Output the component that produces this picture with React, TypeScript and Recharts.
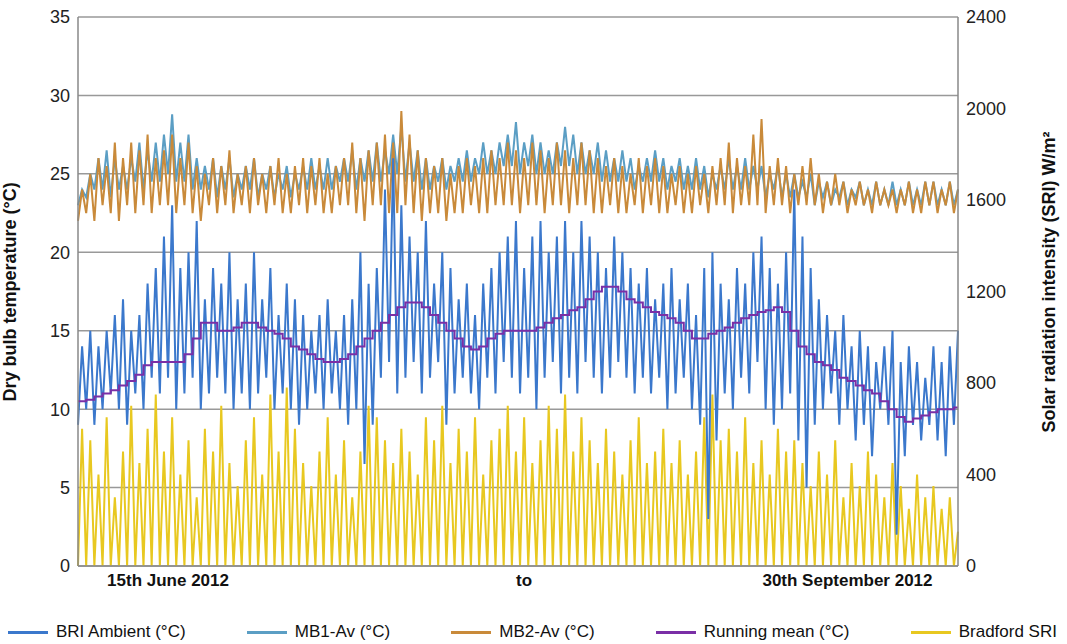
import { ComposedChart, Line, XAxis, YAxis, CartesianGrid, Legend } from 'recharts';

// one value per day, 15 Jun – 30 Sep 2012
const briHigh = [
  14, 15, 14, 15, 16, 17, 15, 16, 18, 19, 21, 23, 19, 20, 22, 17, 19, 18, 20, 17,
  18, 20, 17, 19, 16, 18, 17, 16, 15, 16, 17, 15, 16, 17, 20, 18, 19, 24, 26, 23,
  21, 20, 22, 18, 20, 19, 17, 18, 16, 18, 19, 20, 21, 22, 19, 21, 22, 20, 21, 22,
  20, 22, 21, 20, 19, 21, 20, 19, 18, 19, 17, 18, 19, 17, 18, 16, 19, 20, 18, 17,
  19, 18, 20, 21, 19, 18, 20, 24, 21, 19, 17, 16, 15, 16, 14, 15, 14, 13, 14, 15,
  13, 14, 13, 12, 14, 13, 14, 15,
];
const briLow = [
  9, 10, 9, 10, 11, 10, 9, 11, 10, 12, 11, 12, 10, 11, 12, 10, 11, 12, 11, 10,
  11, 10, 11, 12, 10, 11, 10, 9, 10, 11, 10, 11, 10, 9, 10, 6.5, 9, 12, 13, 11,
  12, 13, 11, 12, 13, 9, 11, 12, 11, 10, 12, 11, 13, 12, 11, 12, 10, 12, 13, 11,
  12, 11, 13, 12, 11, 12, 13, 12, 11, 12, 11, 12, 10, 11, 12, 10, 9, 3, 8, 11,
  10, 12, 11, 13, 10, 9, 10, 11, 8, 5, 9, 10, 11, 9, 10, 8, 9, 7, 10, 9,
  2, 7, 9, 8, 9, 8, 7, 9,
];
const mb1High = [
  24, 25, 26, 26.5, 26, 25.5, 26, 27, 26.5, 27, 27.5, 28.8, 27, 27.5, 26, 25.5, 26, 25.5, 26, 25,
  25.5, 26, 25, 25.5, 25, 25.5, 25, 25.5, 26, 25.5, 26, 25.5, 26, 26.5, 26, 26.5, 27, 26.5, 27.5, 28,
  27, 26.5, 26, 25.5, 26, 25.5, 26, 26.5, 26, 27, 26.5, 27, 27.5, 28.3, 27, 27.5, 27, 26.5, 27, 28,
  27.5, 27, 26.5, 27, 26.5, 26, 26.5, 26, 25.5, 26, 26.5, 26, 25.5, 26, 25.5, 26, 25.5, 25, 25.5, 26,
  25.5, 26, 25.5, 25.5, 25, 25.5, 25, 25, 24.5, 25, 24.5, 24.5, 24, 24.5, 24, 24.5, 24, 24.5, 24, 24.5,
  24, 24.5, 24, 24.5, 24.5, 24, 24.5, 24,
];
const mb1Low = [
  23, 23.5, 24, 24, 23.5, 24, 24, 24.5, 24, 24.5, 24.5, 25, 24.5, 24.5, 24, 24, 24, 23.5, 24, 23.5,
  24, 24, 23.5, 24, 23.5, 24, 23.5, 24, 24, 24, 24, 24, 24.5, 24.5, 24, 24.5, 24.5, 24.5, 25, 25,
  24.5, 24.5, 24, 24, 24.5, 24, 24.5, 24.5, 24.5, 25, 25, 25, 25.5, 25.5, 25, 25.5, 25, 25, 25, 25.5,
  25.5, 25, 25, 25, 24.5, 24.5, 24.5, 24.5, 24, 24.5, 24.5, 24.5, 24, 24.5, 24, 24, 24, 23.5, 24, 24,
  24, 24, 24, 24, 23.5, 24, 23.5, 23.5, 23.5, 23.5, 23, 23.5, 23, 23.5, 23, 23.5, 23, 23, 23, 23,
  23, 23, 23, 23, 23, 23, 23, 23,
];
const mb2High = [
  24, 25, 26, 25.5, 27, 26, 27, 26.5, 27.5, 26, 26.5, 27.5, 26, 27, 25.5, 25, 26, 25.5, 26.5, 25,
  25.5, 26, 25, 25.5, 26, 25, 25.5, 26, 25.5, 26, 25, 25.5, 26, 27, 26, 26.5, 27, 27.5, 27, 29,
  27.5, 26.5, 26, 25.5, 26, 25, 25.5, 26, 25.5, 26, 26.5, 26, 27, 26.5, 26, 27, 26.5, 26, 27, 26.5,
  26, 27, 26.5, 26, 25.5, 26, 25.5, 25, 26, 25.5, 26, 25.5, 25, 25.5, 25, 25.5, 25, 25.5, 26, 27,
  26, 25.5, 27.5, 28.5, 25.5, 26, 25.5, 25, 25.5, 26, 25, 24.5, 25, 24.5, 24, 24.5, 24, 24.5, 24, 24,
  24, 24.5, 24, 24.5, 24.5, 24, 24.5, 24,
];
const mb2Low = [
  22, 22.5, 22, 23, 22.5, 22, 23, 22.5, 23, 22.5, 23, 23, 22.5, 23, 22.5, 22, 23, 22.5, 23, 22.5,
  23, 22.5, 23, 22.5, 23, 22.5, 22.5, 23, 22.5, 23, 22.5, 22.5, 23, 23, 22.5, 22, 23, 23, 22.5, 22.5,
  23, 22.5, 22, 22.5, 22.5, 22, 22.5, 22.5, 23, 22.5, 22.5, 23, 23, 23, 22.5, 23, 23, 22.5, 23, 23,
  22.5, 23, 23, 22.5, 22.5, 23, 22.5, 22.5, 23, 22.5, 23, 22.5, 22.5, 23, 22.5, 22.5, 23, 22.5, 23, 23,
  22.5, 23, 23, 23, 22.5, 23, 23, 22.5, 23, 23, 23, 22.5, 23, 23, 22.5, 23, 23, 22.5, 23, 23,
  22.5, 23, 22.5, 22.5, 23, 22.5, 23, 22.5,
];
const runningMean = [
  10.5, 10.6, 10.8, 11, 11.2, 11.5, 11.8, 12.2, 12.8, 13, 13, 13, 13, 13.5, 14.5, 15.5, 15.5, 15, 15, 15.2,
  15.5, 15.5, 15.2, 15, 14.8, 14.5, 14, 13.8, 13.5, 13.2, 13, 13, 13.2, 13.5, 14, 14.5, 15, 15.5, 16, 16.5,
  16.8, 16.8, 16.5, 16, 15.5, 15, 14.5, 14, 13.8, 14, 14.5, 14.8, 15, 15, 15, 15, 15.2, 15.5, 15.8, 16,
  16.3, 16.5, 17, 17.5, 17.8, 17.8, 17.5, 17, 16.8, 16.5, 16.2, 16, 15.8, 15.5, 15, 14.5, 14.5, 14.8, 15, 15.2,
  15.5, 15.8, 16, 16.2, 16.3, 16.5, 16.2, 15, 14, 13.5, 13, 12.8, 12.5, 12, 11.8, 11.5, 11.2, 11, 10.5, 10,
  9.5, 9.2, 9.4, 9.6, 9.8, 10, 10, 10.1,
];
const sriPeak = [
  600, 550, 400, 650, 300, 500, 700, 450, 600, 750, 500, 650, 400, 550, 300, 600, 500, 700, 450, 350,
  550, 650, 400, 750, 500, 780, 600, 450, 350, 500, 650, 400, 550, 300, 500, 700, 650, 550, 450, 600,
  500, 400, 650, 550, 700, 450, 600, 500, 650, 400, 550, 600, 700, 500, 650, 450, 550, 700, 600, 750,
  500, 650, 550, 450, 600, 500, 400, 550, 650, 450, 500, 600, 450, 550, 400, 500, 650, 750, 550, 600,
  500, 650, 450, 550, 400, 600, 500, 550, 450, 350, 500, 400, 550, 300, 450, 350, 500, 400, 300, 450,
  350, 250, 400, 300, 350, 250, 300, 150,
];
const xLabels = ['15th June 2012', 'to', '30th September 2012'];
const xLabelIdx = [22, 109, 188];
const leftTicks = [0, 5, 10, 15, 20, 25, 30, 35];
const rightTicks = [0, 400, 800, 1200, 1600, 2000, 2400];

const data = briHigh.flatMap((_, d) => [
  { i: 2 * d, bri: briLow[d], mb1: mb1Low[d], mb2: mb2Low[d], mean: runningMean[d], sri: 0 },
  { i: 2 * d + 1, bri: briHigh[d], mb1: mb1High[d], mb2: mb2High[d], mean: runningMean[d], sri: sriPeak[d] },
]);

const series = [
  { key: 'bri', name: 'BRI Ambient (°C)', color: '#3b78cc' },
  { key: 'mb1', name: 'MB1-Av (°C)', color: '#5b9ec4' },
  { key: 'mb2', name: 'MB2-Av (°C)', color: '#c98a3a' },
  { key: 'mean', name: 'Running mean (°C)', color: '#7a2fa6' },
  { key: 'sri', name: 'Bradford SRI', color: '#e8c820' },
];

const font = 'Arial, "Liberation Sans", sans-serif';

function LegendRow() {
  return (
    <div style={{ display: 'flex', justifyContent: 'space-between', padding: '0 10px 0 8px', fontFamily: font, fontSize: 17, color: '#111' }}>
      {series.map((s) => (
        <span key={s.key} style={{ display: 'flex', alignItems: 'center' }}>
          <span style={{ display: 'inline-block', width: 40, height: 3, background: s.color, marginRight: 8 }} />
          {s.name}
        </span>
      ))}
    </div>
  );
}

export default function App() {
  return (
    <div style={{ position: 'absolute', left: 0, top: 0, width: 1067, height: 644, background: '#fff' }}>
      <ComposedChart width={1067} height={644} data={data} margin={{ top: 17, right: 0, bottom: 30, left: 0 }}>
        <CartesianGrid yAxisId="l" horizontal vertical={false} stroke="#999" strokeWidth={1.5} />
        <XAxis
          dataKey="i"
          type="number"
          domain={[0, data.length - 1]}
          ticks={xLabelIdx}
          tickFormatter={(v) => xLabels[xLabelIdx.indexOf(v)]}
          tick={{ fill: '#111', fontSize: 17, fontWeight: 'bold', fontFamily: font }}
          tickLine={false}
          axisLine={{ stroke: '#888', strokeWidth: 1.5 }}
          height={28}
        />
        <YAxis
          yAxisId="l"
          domain={[0, 35]}
          ticks={leftTicks}
          tick={{ fill: '#222', fontSize: 18, fontFamily: font }}
          tickLine={false}
          axisLine={{ stroke: '#888', strokeWidth: 1.5 }}
          width={78}
          label={{ value: 'Dry bulb temperature (°C)', angle: -90, position: 'insideLeft', offset: 10, dy: 110, style: { fontSize: 18, fontWeight: 'bold', fill: '#111', fontFamily: font } }}
        />
        <YAxis
          yAxisId="r"
          orientation="right"
          domain={[0, 2400]}
          ticks={rightTicks}
          tick={{ fill: '#222', fontSize: 18, fontFamily: font }}
          tickLine={false}
          axisLine={{ stroke: '#888', strokeWidth: 1.5 }}
          width={109}
          label={{ value: 'Solar radiation intensity (SRI) W/m²', angle: -90, position: 'insideRight', offset: 18, dy: -160, style: { fontSize: 18, fontWeight: 'bold', fill: '#111', fontFamily: font } }}
        />
        <Legend verticalAlign="bottom" content={() => <LegendRow />} wrapperStyle={{ bottom: 2 }} />
        <Line yAxisId="r" dataKey="sri" stroke="#e8c820" strokeWidth={2} dot={false} isAnimationActive={false} />
        <Line yAxisId="l" dataKey="mb1" stroke="#5b9ec4" strokeWidth={2} dot={false} isAnimationActive={false} />
        <Line yAxisId="l" dataKey="mb2" stroke="#c98a3a" strokeWidth={2} dot={false} isAnimationActive={false} />
        <Line yAxisId="l" dataKey="bri" stroke="#3b78cc" strokeWidth={2} dot={false} isAnimationActive={false} />
        <Line yAxisId="l" type="stepAfter" dataKey="mean" stroke="#7a2fa6" strokeWidth={2} dot={false} isAnimationActive={false} />
      </ComposedChart>
    </div>
  );
}
